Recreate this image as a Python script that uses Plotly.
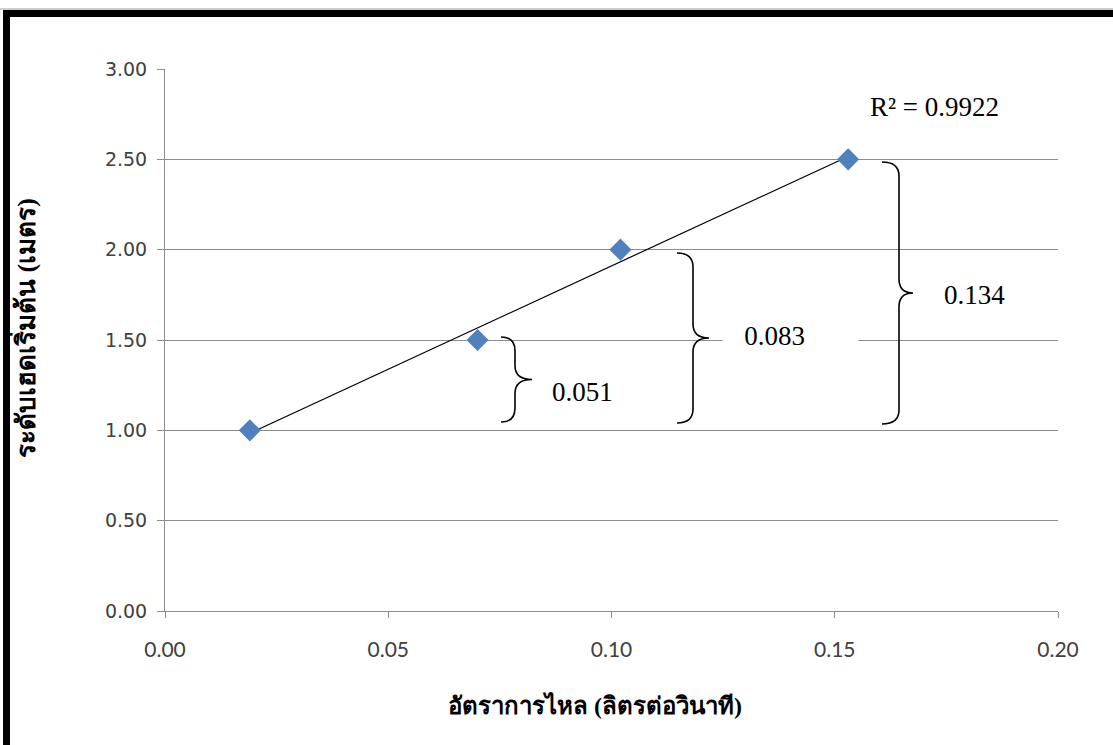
import numpy as np
import plotly.graph_objects as go

# Flow rate (L/s) vs. initial head level (m)
flow_rate = [0.019, 0.070, 0.102, 0.153]
head_level = [1.00, 1.50, 2.00, 2.50]
r_squared_text = "R² = 0.9922"

x_ticks = [0.00, 0.05, 0.10, 0.15, 0.20]
y_ticks = [0.00, 0.50, 1.00, 1.50, 2.00, 2.50, 3.00]

W, H = 1113, 745
L, R, T, B = 165, 1058, 69, 611   # plot area in pixels


def px(p):
    return (p - L) / (R - L)


def py(p):
    return (B - p) / (B - T)


fig = go.Figure()

# linear trend line across the measured range
slope, intercept = np.polyfit(flow_rate, head_level, 1)
xs = np.array([min(flow_rate), max(flow_rate)])
fig.add_trace(go.Scatter(x=xs, y=slope * xs + intercept, mode="lines",
                         line=dict(color="black", width=1.2),
                         hoverinfo="skip", showlegend=False))

fig.add_trace(go.Scatter(x=flow_rate, y=head_level, mode="markers",
                         marker=dict(symbol="diamond", size=17, color="#4F81BD",
                                     line=dict(width=0)),
                         showlegend=False))


def brace(x_end, x_spine, x_tip, y_top, y_bot):
    """Right-pointing curly brace drawn in paper coordinates."""
    a, s, t = px(x_end), px(x_spine), px(x_tip)
    yt, yb = py(y_top), py(y_bot)
    ym = (yt + yb) / 2
    r = 14 / (B - T)
    return (f"M {a},{yt} Q {s},{yt} {s},{yt - r} "
            f"L {s},{ym + r} Q {s},{ym} {t},{ym} "
            f"Q {s},{ym} {s},{ym - r} "
            f"L {s},{yb + r} Q {s},{yb} {a},{yb}")


shapes = []
for geo in [(501, 515, 532, 337, 422),
            (677, 693, 709, 253, 423),
            (882, 899, 913, 162, 424)]:
    shapes.append(dict(type="path", xref="paper", yref="paper",
                       path=brace(*geo), line=dict(color="black", width=1.6)))

# page frame
shapes.append(dict(type="line", xref="paper", yref="paper",
                   x0=px(0), x1=px(W), y0=py(9), y1=py(9),
                   line=dict(color="#9a9a9a", width=1)))
shapes.append(dict(type="rect", xref="paper", yref="paper",
                   x0=px(3), x1=px(W + 5), y0=py(10), y1=py(17),
                   fillcolor="black", line=dict(width=0)))
shapes.append(dict(type="rect", xref="paper", yref="paper",
                   x0=px(3), x1=px(10), y0=py(10), y1=py(H + 5),
                   fillcolor="black", line=dict(width=0)))

# differences in flow rate relative to the first measurement
base = flow_rate[0]
labels = [f"{v - base:.3f}" for v in flow_rate[1:]]
label_font = dict(family="Liberation Serif", size=27, color="black")

annotations = [
    dict(x=px(582), y=py(392), xref="paper", yref="paper", text=labels[0],
         showarrow=False, xanchor="center", yanchor="middle", font=label_font),
    # this label sits in a white text box that hides the gridline behind it
    dict(x=px(722), y=py(336), xref="paper", yref="paper",
         text="&nbsp;&nbsp;&nbsp;" + labels[1], showarrow=False,
         xanchor="left", yanchor="middle", align="left", width=133,
         bgcolor="white", font=label_font),
    dict(x=px(974), y=py(295), xref="paper", yref="paper", text=labels[2],
         showarrow=False, xanchor="center", yanchor="middle", font=label_font),
    dict(x=px(868), y=py(107), xref="paper", yref="paper", text=r_squared_text,
         showarrow=False, xanchor="left", yanchor="middle", font=label_font),
    dict(x=px(595), y=py(705), xref="paper", yref="paper",
         text="<b>อัตราการไหล (ลิตรต่อวินาที)</b>", showarrow=False,
         xanchor="center", yanchor="middle",
         font=dict(family="Liberation Serif, serif", size=24, color="black")),
    dict(x=px(24), y=py(328), xref="paper", yref="paper",
         text="<b>ระดับเฮดเริ่มต้น (เมตร)</b>", showarrow=False, textangle=-90,
         xanchor="center", yanchor="middle",
         font=dict(family="Liberation Serif, serif", size=26, color="black")),
]

fig.update_layout(
    width=W, height=H,
    margin=dict(l=L, r=W - R, t=T, b=H - B),
    paper_bgcolor="white", plot_bgcolor="white",
    shapes=shapes, annotations=annotations,
    xaxis=dict(range=[0, 0.2], tickvals=x_ticks,
               ticktext=[f"{v:.2f}" for v in x_ticks],
               showgrid=False, zeroline=False,
               showline=True, linecolor="#8c8c8c", linewidth=1,
               ticks="outside", ticklen=6, tickcolor="#8c8c8c",
               ticklabelstandoff=14,
               tickfont=dict(family="Lato", size=21, color="#404040")),
    yaxis=dict(range=[0, 3], tickvals=y_ticks,
               ticktext=[f"{v:.2f}" for v in y_ticks],
               showgrid=True, gridcolor="#8c8c8c", gridwidth=1,
               zeroline=False,
               showline=True, linecolor="#8c8c8c", linewidth=1,
               ticks="outside", ticklen=7, tickcolor="#8c8c8c",
               ticklabelstandoff=6,
               tickfont=dict(family="DejaVu Sans", size=19, color="#404040")),
)

fig.write_html("out.html")
